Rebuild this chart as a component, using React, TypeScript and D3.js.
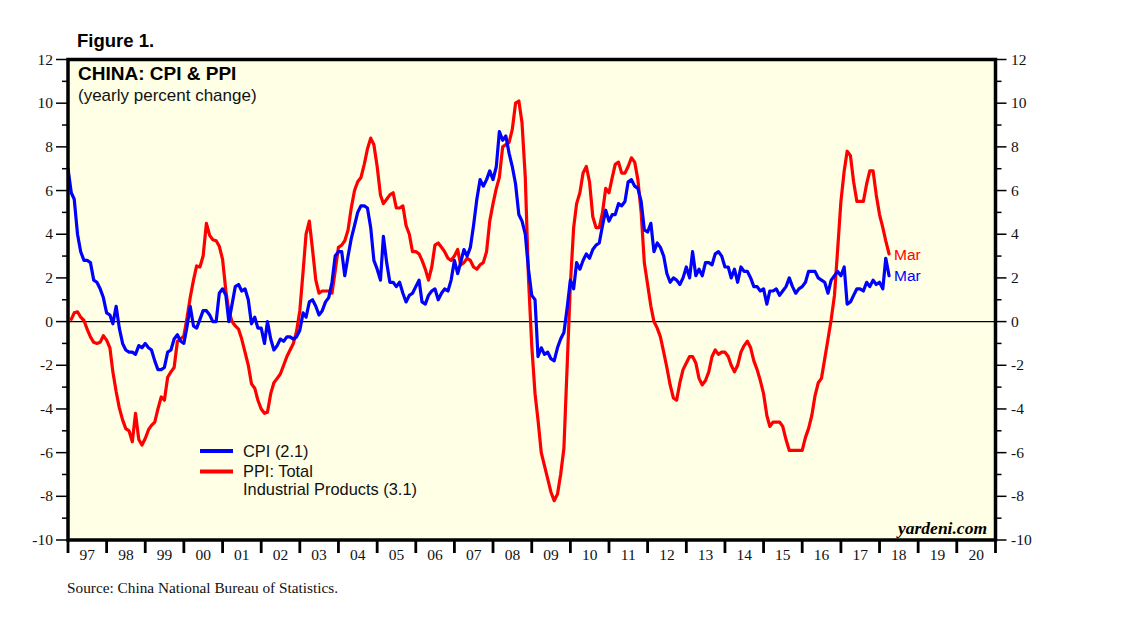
import React from 'react';
import * as d3 from 'd3';

// CPI yearly % change, monthly, starting Dec 1996
const cpiStart = { year: 1996, month: 11 };
const cpiValues: number[] = [
  7.0,
  5.9, 5.6, 4.0, 3.2, 2.8, 2.8, 2.7, 1.9, 1.8, 1.5, 1.1, 0.4,
  0.3, -0.1, 0.7, -0.3, -1.0, -1.3, -1.4, -1.4, -1.5, -1.1, -1.2, -1.0,
  -1.2, -1.3, -1.8, -2.2, -2.2, -2.1, -1.4, -1.3, -0.8, -0.6, -0.9, -1.0,
  -0.2, 0.7, -0.2, -0.3, 0.1, 0.5, 0.5, 0.3, 0.0, 0.0, 1.3, 1.5,
  1.2, 0.0, 0.8, 1.6, 1.7, 1.4, 1.5, 1.0, -0.1, 0.2, -0.3, -0.3,
  -1.0, 0.0, -0.8, -1.3, -1.1, -0.8, -0.9, -0.7, -0.7, -0.8, -0.7, -0.4,
  0.4, 0.2, 0.9, 1.0, 0.7, 0.3, 0.5, 0.9, 1.1, 1.8, 3.0, 3.2,
  3.2, 2.1, 3.0, 3.8, 4.4, 5.0, 5.3, 5.3, 5.2, 4.3, 2.8, 2.4,
  1.9, 3.9, 2.7, 1.8, 1.8, 1.6, 1.8, 1.3, 0.9, 1.2, 1.3, 1.6,
  1.9, 0.9, 0.8, 1.2, 1.4, 1.5, 1.0, 1.3, 1.5, 1.4, 1.9, 2.8,
  2.2, 2.7, 3.3, 3.0, 3.4, 4.4, 5.6, 6.5, 6.2, 6.5, 6.9, 6.5,
  7.1, 8.7, 8.3, 8.5, 7.7, 7.1, 6.3, 4.9, 4.6, 4.0, 2.4, 1.2,
  1.0, -1.6, -1.2, -1.5, -1.4, -1.7, -1.8, -1.2, -0.8, -0.5, 0.6, 1.9,
  1.5, 2.7, 2.4, 2.8, 3.1, 2.9, 3.3, 3.5, 3.6, 4.4, 5.1, 4.6,
  4.9, 4.9, 5.4, 5.3, 5.5, 6.4, 6.5, 6.2, 6.1, 5.5, 4.2, 4.1,
  4.5, 3.2, 3.6, 3.4, 3.0, 2.2, 1.8, 2.0, 1.9, 1.7, 2.0, 2.5,
  2.0, 3.2, 2.1, 2.4, 2.1, 2.7, 2.7, 2.6, 3.1, 3.2, 3.0, 2.5,
  2.5, 2.0, 2.4, 1.8, 2.5, 2.3, 2.3, 2.0, 1.6, 1.6, 1.4, 1.5,
  0.8, 1.4, 1.4, 1.5, 1.2, 1.4, 1.6, 2.0, 1.6, 1.3, 1.5, 1.6,
  1.8, 2.3, 2.3, 2.3, 2.0, 1.9, 1.8, 1.3, 1.9, 2.1, 2.3, 2.1,
  2.5, 0.8, 0.9, 1.2, 1.5, 1.5, 1.4, 1.8, 1.6, 1.9, 1.7, 1.8,
  1.5, 2.9, 2.1,
];

// PPI: Total industrial products, yearly % change, monthly, starting Jan 1997
const ppiStart = { year: 1997, month: 0 };
const ppiValues: number[] = [
  0.1, 0.4, 0.45, 0.2, 0.05, -0.35, -0.7, -0.95, -1.0, -0.95, -0.65, -0.85,
  -1.2, -2.3, -3.2, -3.95, -4.5, -4.9, -5.0, -5.5, -4.2, -5.4, -5.65, -5.35,
  -4.95, -4.75, -4.6, -4.0, -3.45, -3.6, -2.55, -2.3, -2.1, -0.9, -0.8, -0.65,
  0.2, 1.1, 1.9, 2.55, 2.5, 3.0, 4.5, 3.95, 3.75, 3.7, 3.45, 2.85,
  1.4, 0.5, 0.0, -0.2, -0.35, -0.8, -1.4, -2.0, -2.85, -3.05, -3.6, -4.0,
  -4.2, -4.15, -3.3, -2.8, -2.6, -2.4, -2.0, -1.6, -1.3, -1.0, -0.45, 0.5,
  2.3, 4.0, 4.6, 3.3, 1.9, 1.3, 1.4, 1.4, 1.4, 1.3, 2.3, 3.4,
  3.5, 3.7, 4.2, 5.2, 6.0, 6.4, 6.6, 7.2, 7.9, 8.4, 8.1, 7.1,
  5.8, 5.4, 5.6, 5.8, 5.9, 5.2, 5.2, 5.3, 4.4, 4.0, 3.2, 3.2,
  3.1, 2.8, 2.4, 1.9, 2.5, 3.5, 3.6, 3.4, 3.2, 2.9, 2.8, 3.0,
  3.3, 2.6, 2.7, 2.9, 2.8, 2.5, 2.4, 2.6, 2.7, 3.2, 4.6, 5.4,
  6.1, 6.6, 8.0, 8.1, 8.2, 8.8, 10.0, 10.1, 9.1, 6.6, 2.0, -1.1,
  -3.3, -4.5, -6.0, -6.6, -7.2, -7.8, -8.2, -7.9, -7.0, -5.8, -2.1, 1.7,
  4.3, 5.4, 5.9, 6.8, 7.1, 6.4, 4.8, 4.3, 4.3, 5.0, 6.1, 5.9,
  6.6, 7.2, 7.3, 6.8, 6.8, 7.1, 7.5, 7.3, 6.5, 5.0, 2.7, 1.7,
  0.7, 0.0, -0.3, -0.7, -1.4, -2.1, -2.9, -3.5, -3.6, -2.8, -2.2, -1.9,
  -1.6, -1.6, -1.9, -2.6, -2.9, -2.7, -2.3, -1.6, -1.3, -1.5, -1.4, -1.4,
  -1.6, -2.0, -2.3, -2.0, -1.4, -1.1, -0.9, -1.2, -1.8, -2.2, -2.7, -3.3,
  -4.3, -4.8, -4.6, -4.6, -4.6, -4.8, -5.4, -5.9, -5.9, -5.9, -5.9, -5.9,
  -5.3, -4.9, -4.3, -3.4, -2.8, -2.6, -1.7, -0.8, 0.1, 1.2, 3.3, 5.5,
  6.9, 7.8, 7.6, 6.4, 5.5, 5.5, 5.5, 6.3, 6.9, 6.9, 5.8, 4.9,
  4.3, 3.7, 3.1,
];

const yearLabels = ['97', '98', '99', '00', '01', '02', '03', '04', '05', '06', '07', '08',
  '09', '10', '11', '12', '13', '14', '15', '16', '17', '18', '19', '20'];
const firstYear = 1997;
const yTickValues = [-10, -8, -6, -4, -2, 0, 2, 4, 6, 8, 10, 12];
const yMinorValues = [-9, -7, -5, -3, -1, 1, 3, 5, 7, 9, 11];

const legendCpi = ['CPI (2.1)'];
const legendPpi = ['PPI: Total', 'Industrial Products (3.1)'];
const lastLabel = 'Mar';

const W = 1138;
const H = 621;
const X0 = 68;
const X1 = 995.5;
const Y0 = 59.5;
const Y1 = 540;
const SANS = '"Liberation Sans", Arial, Helvetica, sans-serif';
const SERIF = '"Liberation Serif", "Times New Roman", Times, serif';
const BLUE = '#0000ff';
const RED = '#ff0000';

type Pt = { date: Date; v: number };

function toPoints(start: { year: number; month: number }, vals: number[]): Pt[] {
  return vals.map((v, i) => ({ date: new Date(start.year, start.month + i + 1, 1), v }));
}

export default function App() {
  const x = d3.scaleTime()
    .domain([new Date(firstYear, 0, 1), new Date(firstYear + yearLabels.length, 0, 1)])
    .range([X0, X1]);
  const y = d3.scaleLinear().domain([-10, 12]).range([Y1, Y0]);

  const cpi = toPoints(cpiStart, cpiValues);
  const ppi = toPoints(ppiStart, ppiValues);
  const line = d3.line<Pt>().x((d) => x(d.date)).y((d) => y(d.v));

  const lastCpi = cpi[cpi.length - 1];
  const lastPpi = ppi[ppi.length - 1];

  const years = d3.range(yearLabels.length + 1).map((i) => firstYear + i);

  return (
    <svg width={W} height={H} style={{ position: 'absolute', left: 0, top: 0, background: '#fff' }}>
      <defs>
        <clipPath id="plotClip">
          <rect x={X0} y={Y0} width={X1 - X0} height={Y1 - Y0} />
        </clipPath>
      </defs>
      <rect x={0} y={0} width={W} height={H} fill="#ffffff" />
      <text x={77} y={47} fontFamily={SANS} fontWeight="bold" fontSize={18.5} fill="#000">Figure 1.</text>

      <rect x={X0} y={Y0} width={X1 - X0} height={Y1 - Y0} fill="#ffffe5" />

      {/* zero line */}
      <line x1={X0} x2={X1} y1={y(0)} y2={y(0)} stroke="#000" strokeWidth={1.2} />

      <g clipPath="url(#plotClip)">
        <path d={line(ppi) || ''} fill="none" stroke={RED} strokeWidth={3.2} strokeLinejoin="round" strokeLinecap="round" />
        <path d={line(cpi) || ''} fill="none" stroke={BLUE} strokeWidth={3.2} strokeLinejoin="round" strokeLinecap="round" />
      </g>

      {/* titles */}
      <text x={78} y={80} fontFamily={SANS} fontWeight="bold" fontSize={19} fill="#000">CHINA: CPI &amp; PPI</text>
      <text x={78} y={101} fontFamily={SANS} fontSize={17} fill="#111">(yearly percent change)</text>

      {/* legend */}
      <line x1={200} x2={233} y1={451} y2={451} stroke={BLUE} strokeWidth={4} />
      <line x1={200} x2={233} y1={471.5} y2={471.5} stroke={RED} strokeWidth={4} />
      {legendCpi.map((t, i) => (
        <text key={'c' + i} x={243} y={457 + i * 18.4} fontFamily={SANS} fontSize={16.4} fill="#111">{t}</text>
      ))}
      {legendPpi.map((t, i) => (
        <text key={'p' + i} x={243} y={476.5 + i * 18.4} fontFamily={SANS} fontSize={16.4} fill="#111">{t}</text>
      ))}

      {/* end labels */}
      <text x={x(lastPpi.date) + 5} y={y(lastPpi.v) + 5.7} fontFamily={SANS} fontSize={15.5} fill={RED}>{lastLabel}</text>
      <text x={x(lastCpi.date) + 5} y={y(lastCpi.v) + 5.4} fontFamily={SANS} fontSize={15.5} fill={BLUE}>{lastLabel}</text>

      <text x={987} y={534} textAnchor="end" fontFamily={SERIF} fontStyle="italic" fontWeight="bold" fontSize={17.5} fill="#000">yardeni.com</text>

      {/* frame */}
      <rect x={X0} y={Y0} width={X1 - X0} height={Y1 - Y0} fill="none" stroke="#000" strokeWidth={3.5} />

      {/* y ticks left & right */}
      {yTickValues.map((v) => (
        <g key={'yt' + v}>
          <line x1={X0 - 12} x2={X0} y1={y(v)} y2={y(v)} stroke="#000" strokeWidth={1.5} />
          <line x1={X1} x2={X1 + 11} y1={y(v)} y2={y(v)} stroke="#000" strokeWidth={1.5} />
          <text x={53} y={y(v) + 5} textAnchor="end" fontFamily={SERIF} fontSize={15.5} fill="#111">{v}</text>
          <text x={1011} y={y(v) + 5} textAnchor="start" fontFamily={SERIF} fontSize={15.5} fill="#111">{v}</text>
        </g>
      ))}
      {yMinorValues.map((v) => (
        <g key={'ym' + v}>
          <line x1={X0 - 6} x2={X0} y1={y(v)} y2={y(v)} stroke="#000" strokeWidth={1.5} />
          <line x1={X1} x2={X1 + 6} y1={y(v)} y2={y(v)} stroke="#000" strokeWidth={1.5} />
        </g>
      ))}

      {/* x ticks */}
      {years.map((yr) => (
        <line key={'xt' + yr} x1={x(new Date(yr, 0, 1))} x2={x(new Date(yr, 0, 1))} y1={Y1} y2={Y1 + 13} stroke="#000" strokeWidth={2.8} />
      ))}
      {yearLabels.map((lab, i) => (
        <text key={'xl' + lab} x={x(new Date(firstYear + i, 6, 2))} y={560} textAnchor="middle" fontFamily={SERIF} fontSize={15.5} fill="#111">{lab}</text>
      ))}

      <text x={67} y={593} fontFamily={SERIF} fontSize={15.3} fill="#111">Source: China National Bureau of Statistics.</text>
    </svg>
  );
}
